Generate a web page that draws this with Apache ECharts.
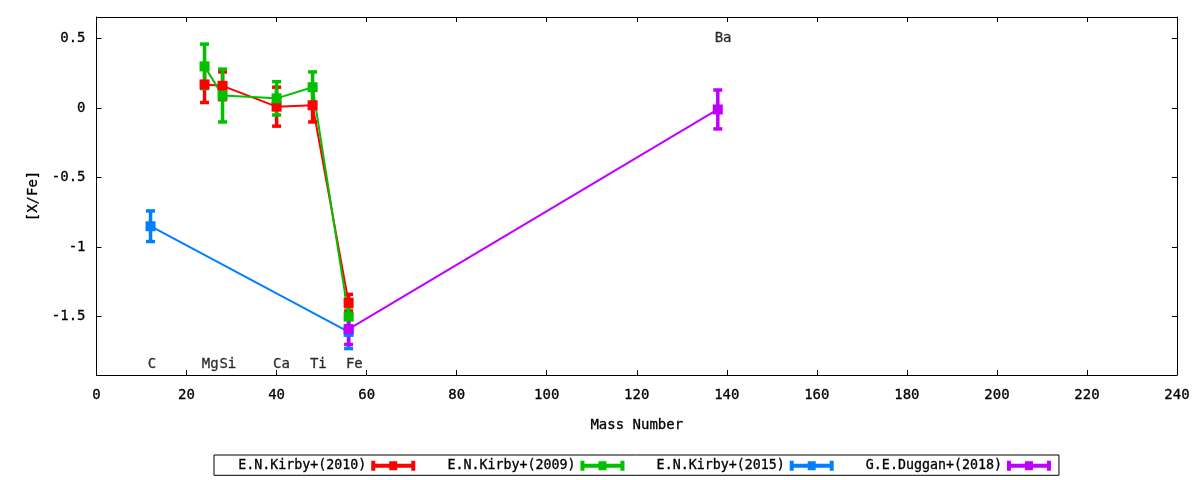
<!DOCTYPE html>
<html>
<head>
<meta charset="utf-8">
<script src="https://cdn.jsdelivr.net/npm/echarts@6/dist/echarts.min.js"></script>
<style>
html,body{margin:0;padding:0;background:#fff;}
#chart{width:1200px;height:480px;}
</style>
</head>
<body>
<div id="chart"></div>
<script>
// ---- data ----
const kirby2010X = [24, 28, 40, 48, 56];
const kirby2010Y = [0.17, 0.16, 0.01, 0.02, -1.40];
const kirby2010Err = [0.13, 0.10, 0.14, 0.12, 0.06];

const kirby2009X = [24, 28, 40, 48, 56];
const kirby2009Y = [0.30, 0.09, 0.07, 0.15, -1.50];
const kirby2009Err = [0.16, 0.19, 0.12, 0.11, 0.07];

const kirby2015X = [12, 56];
const kirby2015Y = [-0.85, -1.61];
const kirby2015Err = [0.11, 0.12];

const duggan2018X = [56, 138];
const duggan2018Y = [-1.59, -0.01];
const duggan2018Err = [0.11, 0.14];

const seriesNames = ['E.N.Kirby+(2010)', 'E.N.Kirby+(2009)', 'E.N.Kirby+(2015)', 'G.E.Duggan+(2018)'];
const seriesColors = ['#ff0000', '#00c000', '#0080ff', '#c000ff'];

const elementNames = ['C', 'Mg', 'Si', 'Ca', 'Ti', 'Fe', 'Ba'];
const elementLabelX = [11.4, 23.4, 27.3, 39.2, 47.4, 55.4, 137.3];
const elementLabelY = [-1.84, -1.84, -1.84, -1.84, -1.84, -1.84, 0.5];

const yTickValues = [-1.5, -1, -0.5, 0, 0.5];
const xMin = 0, xMax = 240, xStep = 20;
const yMin = -1.92, yMax = 0.655;

// ---- build ----
const FONT = 'DejaVu Sans Mono';
const groups = [
  [kirby2010X, kirby2010Y, kirby2010Err],
  [kirby2009X, kirby2009Y, kirby2009Err],
  [kirby2015X, kirby2015Y, kirby2015Err],
  [duggan2018X, duggan2018Y, duggan2018Err]
];

function errRender(color) {
  return function (params, api) {
    const x = api.value(0), y = api.value(1), e = api.value(2);
    const top = api.coord([x, y + e]);
    const bot = api.coord([x, y - e]);
    const hw = 4.5;
    const style = { stroke: color, lineWidth: 3.5, fill: null };
    return {
      type: 'group',
      children: [
        { type: 'line', shape: { x1: top[0], y1: top[1], x2: bot[0], y2: bot[1] }, style: style },
        { type: 'line', shape: { x1: top[0] - hw, y1: top[1], x2: top[0] + hw, y2: top[1] }, style: style },
        { type: 'line', shape: { x1: bot[0] - hw, y1: bot[1], x2: bot[0] + hw, y2: bot[1] }, style: style }
      ]
    };
  };
}

const legendIcon = 'path://M0,0H4V3H40V0H44V10H40V7H4V10H0Z M18,0.5H26V9.5H18Z';

const series = [];
groups.forEach(function (g, i) {
  const [xs, ys, es] = g;
  const data = xs.map(function (x, k) { return [x, ys[k], es[k]]; });
  series.push({
    name: seriesNames[i],
    type: 'custom',
    renderItem: errRender(seriesColors[i]),
    data: data,
    encode: { x: 0, y: 1 },
    itemStyle: { color: seriesColors[i] },
    clip: true,
    silent: true
  });
  series.push({
    name: seriesNames[i],
    type: 'line',
    data: data.map(function (d) { return [d[0], d[1]]; }),
    symbol: 'rect',
    symbolSize: 10,
    showSymbol: true,
    lineStyle: { color: seriesColors[i], width: 2 },
    itemStyle: { color: seriesColors[i] },
    animation: false,
    silent: true
  });
});

const textThick = { textBorderColor: '#000', textBorderWidth: 0.3 };

series.push({
  name: 'labels',
  type: 'scatter',
  symbolSize: 0,
  data: elementNames.map(function (n, k) { return [elementLabelX[k], elementLabelY[k], n]; }),
  label: Object.assign({
    show: true,
    position: 'right',
    distance: 0,
    formatter: function (p) { return p.data[2]; },
    color: '#000',
    fontFamily: FONT,
    fontSize: 14
  }, textThick),
  silent: true,
  z: 10
});

const axisTextStyle = Object.assign({ color: '#000', fontFamily: FONT, fontSize: 14 }, textThick);

const option = {
  backgroundColor: '#fff',
  animation: false,
  grid: { left: 96.5, right: 23, top: 17, bottom: 105, containLabel: false },
  legend: {
    data: seriesNames.map(function (n) { return { name: n, icon: legendIcon }; }),
    left: 214,
    top: 455,
    itemWidth: 44,
    itemHeight: 10,
    itemGap: 32,
    align: 'right',
    padding: [4, 8, 3, 24],
    borderColor: '#000',
    borderWidth: 1,
    borderRadius: 0,
    textStyle: Object.assign({ color: '#000', fontFamily: FONT, fontSize: 13.3 }, textThick),
    selectedMode: false
  },
  xAxis: [
    {
      type: 'value', min: xMin, max: xMax, interval: xStep,
      name: 'Mass Number', nameLocation: 'middle', nameGap: 43,
      nameTextStyle: axisTextStyle,
      axisLine: { show: true, onZero: false, lineStyle: { color: '#000', width: 1 } },
      axisTick: { show: true, inside: true, length: 5, lineStyle: { color: '#000' } },
      axisLabel: Object.assign({ margin: 13 }, axisTextStyle),
      splitLine: { show: false }
    },
    {
      type: 'value', min: xMin, max: xMax, interval: xStep, position: 'top',
      axisLine: { show: true, onZero: false, lineStyle: { color: '#000', width: 1 } },
      axisTick: { show: true, inside: true, length: 5, lineStyle: { color: '#000' } },
      axisLabel: { show: false },
      splitLine: { show: false }
    }
  ],
  yAxis: [
    {
      type: 'value', min: yMin, max: yMax,
      name: '[X/Fe]', nameLocation: 'middle', nameGap: 56, nameRotate: 90,
      nameTextStyle: axisTextStyle,
      axisLine: { show: true, onZero: false, lineStyle: { color: '#000', width: 1 } },
      axisTick: { show: true, inside: true, length: 5, customValues: yTickValues, lineStyle: { color: '#000' } },
      axisLabel: Object.assign({ margin: 11, customValues: yTickValues, formatter: function (v) { return String(v); } }, axisTextStyle),
      splitLine: { show: false }
    },
    {
      type: 'value', min: yMin, max: yMax, position: 'right',
      axisLine: { show: true, onZero: false, lineStyle: { color: '#000', width: 1 } },
      axisTick: { show: true, inside: true, length: 5, customValues: yTickValues, lineStyle: { color: '#000' } },
      axisLabel: { show: false },
      splitLine: { show: false }
    }
  ],
  series: series
};

const chart = echarts.init(document.getElementById('chart'), null, { renderer: 'canvas' });
chart.setOption(option);
</script>
</body>
</html>
